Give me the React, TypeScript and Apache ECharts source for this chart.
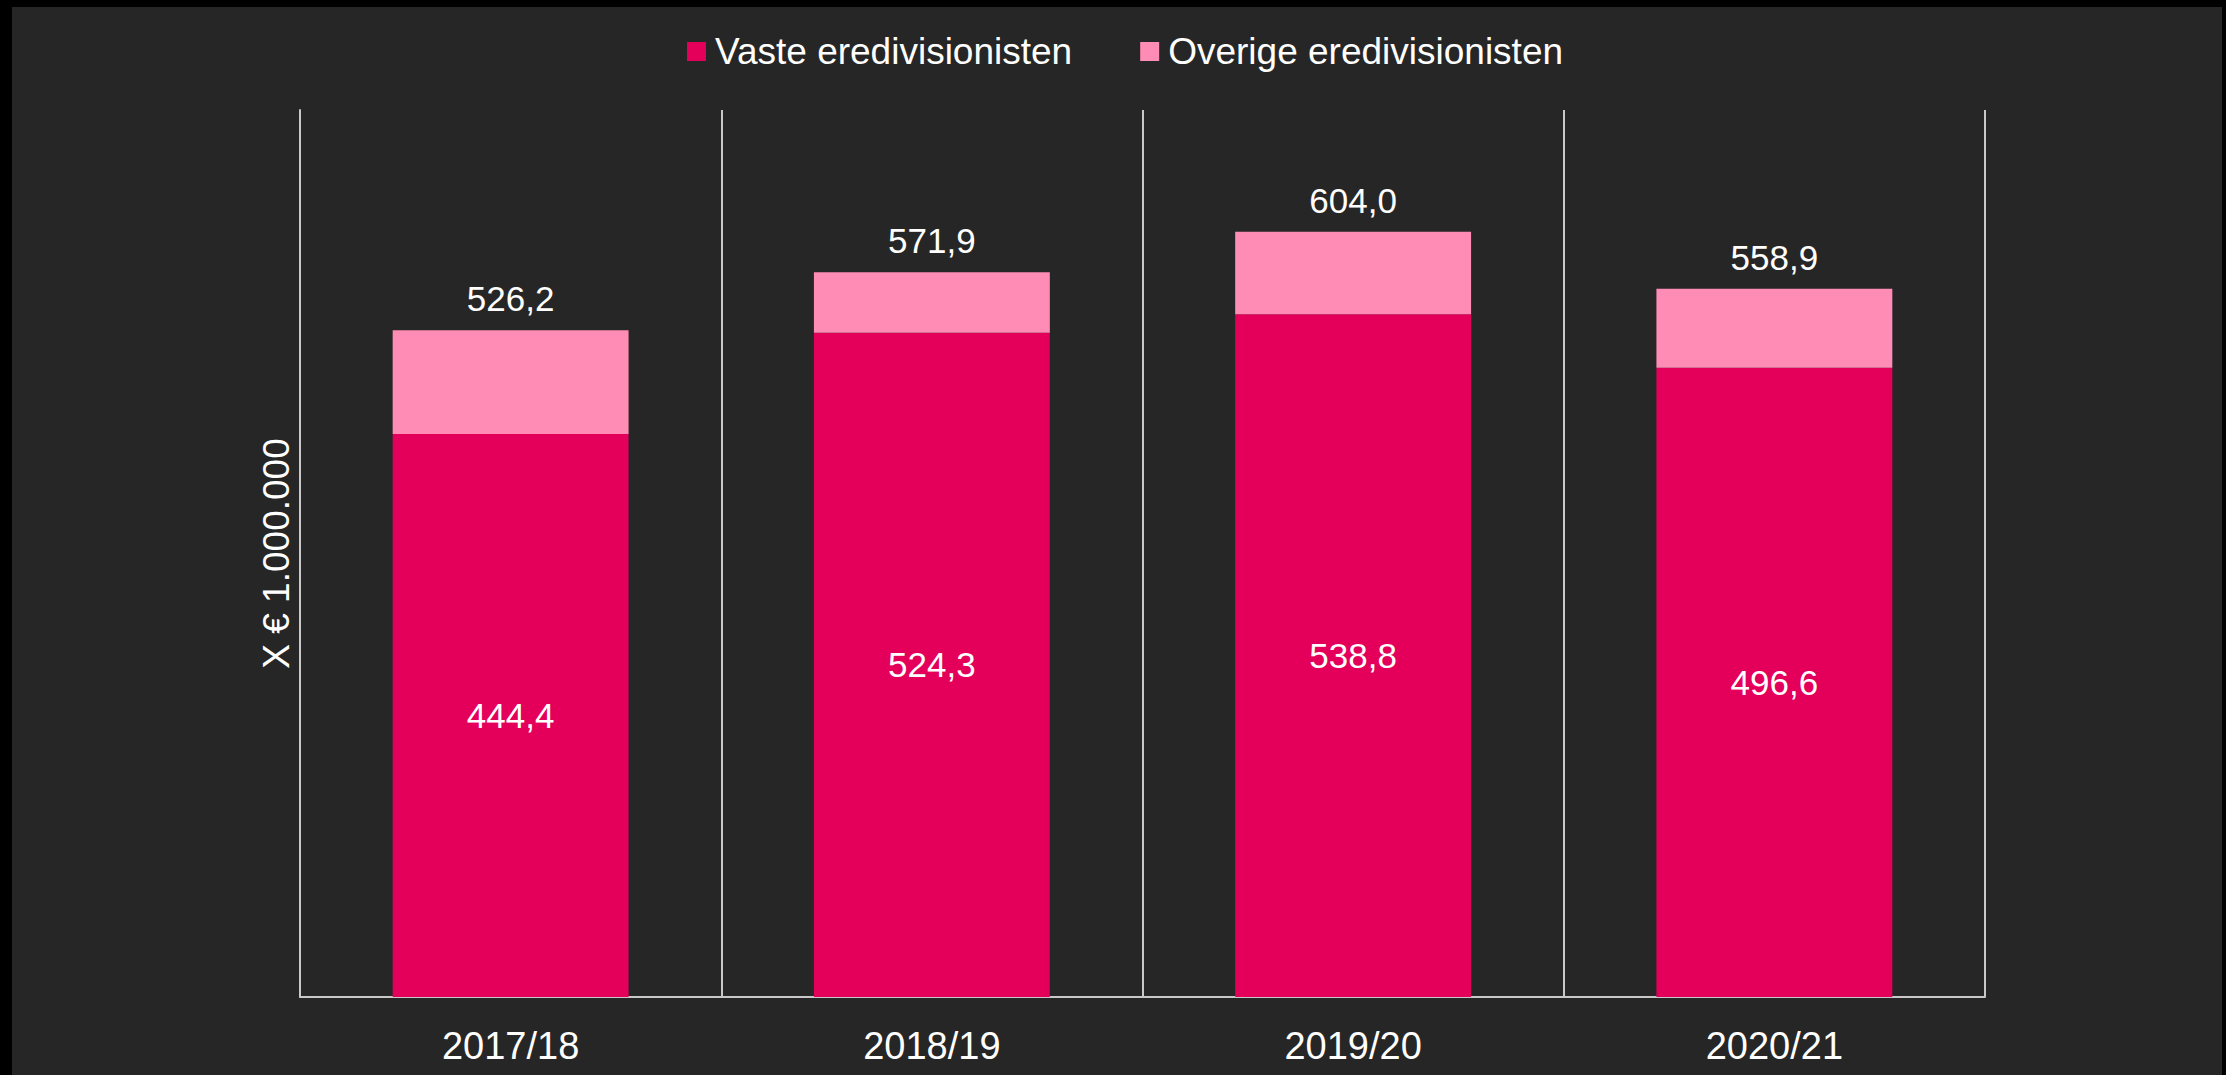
import React, { useEffect, useRef } from "react";
import * as echarts from "echarts";

const categories = ["2017/18", "2018/19", "2019/20", "2020/21"];
const vasteValues = [444.4, 524.3, 538.8, 496.6];
const overigeValues = [81.8, 47.6, 65.2, 62.3];
const totalLabels = [526.2, 571.9, 604.0, 558.9];
const seriesNames = ["Vaste eredivisionisten", "Overige eredivisionisten"];
const yAxisTitle = "X € 1.000.000";

const fmt = (v: number) => v.toFixed(1).replace(".", ",");

export default function App() {
  const ref = useRef<HTMLDivElement>(null);
  useEffect(() => {
    document.body.style.margin = "0";
    const chart = echarts.init(ref.current!, null, { renderer: "svg" });
    const lineColor = "#c8c8c8";
    const font = "'Liberation Sans', Arial, sans-serif";
    chart.setOption({
      animation: false,
      backgroundColor: "#000000",
      graphic: [
        {
          type: "rect",
          z: -100,
          silent: true,
          shape: { x: 12, y: 7, width: 2210, height: 1068 },
          style: { fill: "#262626" },
        },
      ],
      legend: {
        left: 682,
        top: 28,
        itemWidth: 19,
        itemHeight: 19,
        itemGap: 68,
        icon: "rect",
        textStyle: {
          color: "#ffffff",
          fontSize: 37,
          fontFamily: font,
          padding: [0, 0, 0, 4],
        },
        data: seriesNames,
      },
      grid: { left: 300, right: 241, top: 110, bottom: 78, containLabel: false },
      xAxis: {
        type: "category",
        data: categories,
        axisLine: { show: true, lineStyle: { color: lineColor, width: 2 } },
        axisTick: { show: false },
        splitLine: { show: true, interval: 0, lineStyle: { color: lineColor, width: 2 } },
        axisLabel: { color: "#ffffff", fontSize: 38, fontFamily: font, margin: 30 },
      },
      yAxis: {
        type: "value",
        min: 0,
        max: 700,
        name: yAxisTitle,
        nameLocation: "middle",
        nameRotate: 90,
        nameGap: 5,
        nameTextStyle: { color: "#ffffff", fontSize: 37, fontFamily: font },
        axisLine: { show: true, lineStyle: { color: lineColor, width: 2 } },
        axisTick: { show: false },
        axisLabel: { show: false },
        splitLine: { show: false },
      },
      series: [
        {
          name: seriesNames[0],
          type: "bar",
          stack: "total",
          barWidth: "56%",
          data: vasteValues,
          itemStyle: { color: "#E4005A" },
          label: {
            show: true,
            position: "inside",
            color: "#ffffff",
            fontSize: 35,
            fontFamily: font,
            formatter: (p: any) => fmt(p.value),
          },
        },
        {
          name: seriesNames[1],
          type: "bar",
          stack: "total",
          barWidth: "56%",
          data: overigeValues,
          itemStyle: { color: "#FF8CB4" },
          label: {
            show: true,
            position: "top",
            distance: 14,
            color: "#ffffff",
            fontSize: 35,
            fontFamily: font,
            formatter: (p: any) => fmt(totalLabels[p.dataIndex]),
          },
        },
      ],
    });
    return () => chart.dispose();
  }, []);
  return (
    <div
      ref={ref}
      style={{ position: "absolute", left: 0, top: 0, width: 2226, height: 1075 }}
    />
  );
}
